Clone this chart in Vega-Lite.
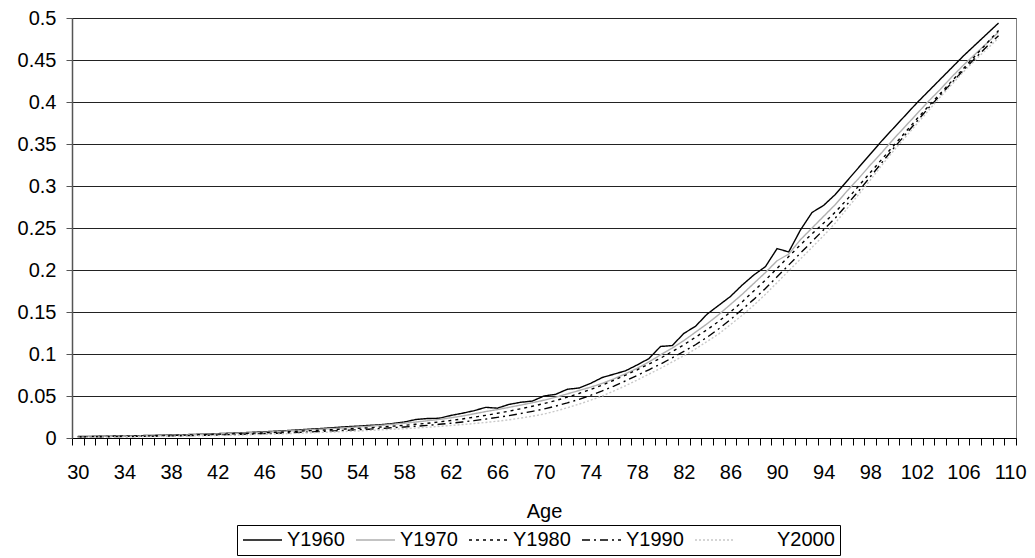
{
  "$schema": "https://vega.github.io/schema/vega-lite/v6.json",
  "width": 944,
  "height": 420,
  "autosize": {"type": "none"},
  "padding": {"left": 72, "top": 18, "right": 19, "bottom": 120},
  "background": "white",
  "config": {
    "font": "Liberation Sans",
    "view": {"stroke": "#808080", "strokeWidth": 1}
  },
  "data": {
    "values": [
      {"Age": 30, "Y1960": 0.0018, "Y1970": 0.0017, "Y1980": 0.0016, "Y1990": 0.0013, "Y2000": 0.0010},
      {"Age": 31, "Y1960": 0.0019, "Y1970": 0.0018, "Y1980": 0.0017, "Y1990": 0.0014, "Y2000": 0.0011},
      {"Age": 32, "Y1960": 0.0021, "Y1970": 0.0020, "Y1980": 0.0018, "Y1990": 0.0015, "Y2000": 0.0012},
      {"Age": 33, "Y1960": 0.0023, "Y1970": 0.0022, "Y1980": 0.0020, "Y1990": 0.0016, "Y2000": 0.0013},
      {"Age": 34, "Y1960": 0.0025, "Y1970": 0.0023, "Y1980": 0.0021, "Y1990": 0.0017, "Y2000": 0.0014},
      {"Age": 35, "Y1960": 0.0027, "Y1970": 0.0025, "Y1980": 0.0023, "Y1990": 0.0019, "Y2000": 0.0015},
      {"Age": 36, "Y1960": 0.0030, "Y1970": 0.0028, "Y1980": 0.0025, "Y1990": 0.0021, "Y2000": 0.0017},
      {"Age": 37, "Y1960": 0.0033, "Y1970": 0.0030, "Y1980": 0.0028, "Y1990": 0.0023, "Y2000": 0.0019},
      {"Age": 38, "Y1960": 0.0036, "Y1970": 0.0033, "Y1980": 0.0030, "Y1990": 0.0025, "Y2000": 0.0021},
      {"Age": 39, "Y1960": 0.0039, "Y1970": 0.0036, "Y1980": 0.0033, "Y1990": 0.0027, "Y2000": 0.0023},
      {"Age": 40, "Y1960": 0.0043, "Y1970": 0.0040, "Y1980": 0.0036, "Y1990": 0.0030, "Y2000": 0.0025},
      {"Age": 41, "Y1960": 0.0047, "Y1970": 0.0044, "Y1980": 0.0040, "Y1990": 0.0033, "Y2000": 0.0028},
      {"Age": 42, "Y1960": 0.0052, "Y1970": 0.0048, "Y1980": 0.0043, "Y1990": 0.0036, "Y2000": 0.0030},
      {"Age": 43, "Y1960": 0.0057, "Y1970": 0.0053, "Y1980": 0.0048, "Y1990": 0.0040, "Y2000": 0.0033},
      {"Age": 44, "Y1960": 0.0062, "Y1970": 0.0058, "Y1980": 0.0052, "Y1990": 0.0044, "Y2000": 0.0036},
      {"Age": 45, "Y1960": 0.0068, "Y1970": 0.0063, "Y1980": 0.0057, "Y1990": 0.0048, "Y2000": 0.0040},
      {"Age": 46, "Y1960": 0.0074, "Y1970": 0.0069, "Y1980": 0.0062, "Y1990": 0.0052, "Y2000": 0.0044},
      {"Age": 47, "Y1960": 0.0081, "Y1970": 0.0076, "Y1980": 0.0068, "Y1990": 0.0057, "Y2000": 0.0048},
      {"Age": 48, "Y1960": 0.0089, "Y1970": 0.0083, "Y1980": 0.0074, "Y1990": 0.0062, "Y2000": 0.0052},
      {"Age": 49, "Y1960": 0.0097, "Y1970": 0.0090, "Y1980": 0.0081, "Y1990": 0.0067, "Y2000": 0.0057},
      {"Age": 50, "Y1960": 0.0106, "Y1970": 0.0098, "Y1980": 0.0088, "Y1990": 0.0073, "Y2000": 0.0062},
      {"Age": 51, "Y1960": 0.0114, "Y1970": 0.0106, "Y1980": 0.0094, "Y1990": 0.0079, "Y2000": 0.0067},
      {"Age": 52, "Y1960": 0.0124, "Y1970": 0.0114, "Y1980": 0.0101, "Y1990": 0.0085, "Y2000": 0.0072},
      {"Age": 53, "Y1960": 0.0134, "Y1970": 0.0122, "Y1980": 0.0107, "Y1990": 0.0091, "Y2000": 0.0078},
      {"Age": 54, "Y1960": 0.0141, "Y1970": 0.0131, "Y1980": 0.0114, "Y1990": 0.0098, "Y2000": 0.0084},
      {"Age": 55, "Y1960": 0.0150, "Y1970": 0.0140, "Y1980": 0.0122, "Y1990": 0.0105, "Y2000": 0.0090},
      {"Age": 56, "Y1960": 0.0158, "Y1970": 0.0151, "Y1980": 0.0131, "Y1990": 0.0113, "Y2000": 0.0097},
      {"Age": 57, "Y1960": 0.0172, "Y1970": 0.0163, "Y1980": 0.0141, "Y1990": 0.0122, "Y2000": 0.0104},
      {"Age": 58, "Y1960": 0.0190, "Y1970": 0.0176, "Y1980": 0.0151, "Y1990": 0.0131, "Y2000": 0.0111},
      {"Age": 59, "Y1960": 0.0220, "Y1970": 0.0190, "Y1980": 0.0163, "Y1990": 0.0140, "Y2000": 0.0119},
      {"Age": 60, "Y1960": 0.0232, "Y1970": 0.0205, "Y1980": 0.0175, "Y1990": 0.0150, "Y2000": 0.0128},
      {"Age": 61, "Y1960": 0.0235, "Y1970": 0.0222, "Y1980": 0.0191, "Y1990": 0.0163, "Y2000": 0.0138},
      {"Age": 62, "Y1960": 0.0268, "Y1970": 0.0240, "Y1980": 0.0208, "Y1990": 0.0176, "Y2000": 0.0149},
      {"Age": 63, "Y1960": 0.0295, "Y1970": 0.0262, "Y1980": 0.0227, "Y1990": 0.0191, "Y2000": 0.0160},
      {"Age": 64, "Y1960": 0.0325, "Y1970": 0.0288, "Y1980": 0.0248, "Y1990": 0.0207, "Y2000": 0.0172},
      {"Age": 65, "Y1960": 0.0365, "Y1970": 0.0315, "Y1980": 0.0270, "Y1990": 0.0225, "Y2000": 0.0185},
      {"Age": 66, "Y1960": 0.0355, "Y1970": 0.0338, "Y1980": 0.0294, "Y1990": 0.0245, "Y2000": 0.0200},
      {"Age": 67, "Y1960": 0.0400, "Y1970": 0.0365, "Y1980": 0.0320, "Y1990": 0.0267, "Y2000": 0.0217},
      {"Age": 68, "Y1960": 0.0425, "Y1970": 0.0392, "Y1980": 0.0348, "Y1990": 0.0291, "Y2000": 0.0237},
      {"Age": 69, "Y1960": 0.0440, "Y1970": 0.0420, "Y1980": 0.0378, "Y1990": 0.0317, "Y2000": 0.0260},
      {"Age": 70, "Y1960": 0.0500, "Y1970": 0.0450, "Y1980": 0.0410, "Y1990": 0.0345, "Y2000": 0.0285},
      {"Age": 71, "Y1960": 0.0520, "Y1970": 0.0485, "Y1980": 0.0446, "Y1990": 0.0380, "Y2000": 0.0320},
      {"Age": 72, "Y1960": 0.0580, "Y1970": 0.0525, "Y1980": 0.0486, "Y1990": 0.0418, "Y2000": 0.0360},
      {"Age": 73, "Y1960": 0.0595, "Y1970": 0.0565, "Y1980": 0.0530, "Y1990": 0.0460, "Y2000": 0.0403},
      {"Age": 74, "Y1960": 0.0650, "Y1970": 0.0605, "Y1980": 0.0578, "Y1990": 0.0508, "Y2000": 0.0450},
      {"Age": 75, "Y1960": 0.0720, "Y1970": 0.0650, "Y1980": 0.0630, "Y1990": 0.0560, "Y2000": 0.0500},
      {"Age": 76, "Y1960": 0.0760, "Y1970": 0.0705, "Y1980": 0.0688, "Y1990": 0.0618, "Y2000": 0.0560},
      {"Age": 77, "Y1960": 0.0800, "Y1970": 0.0765, "Y1980": 0.0748, "Y1990": 0.0680, "Y2000": 0.0622},
      {"Age": 78, "Y1960": 0.0870, "Y1970": 0.0830, "Y1980": 0.0812, "Y1990": 0.0745, "Y2000": 0.0690},
      {"Age": 79, "Y1960": 0.0945, "Y1970": 0.0905, "Y1980": 0.0880, "Y1990": 0.0812, "Y2000": 0.0760},
      {"Age": 80, "Y1960": 0.1090, "Y1970": 0.0990, "Y1980": 0.0950, "Y1990": 0.0880, "Y2000": 0.0830},
      {"Age": 81, "Y1960": 0.1100, "Y1970": 0.1070, "Y1980": 0.1030, "Y1990": 0.0955, "Y2000": 0.0905},
      {"Age": 82, "Y1960": 0.1245, "Y1970": 0.1160, "Y1980": 0.1110, "Y1990": 0.1030, "Y2000": 0.0980},
      {"Age": 83, "Y1960": 0.1330, "Y1970": 0.1260, "Y1980": 0.1200, "Y1990": 0.1110, "Y2000": 0.1060},
      {"Age": 84, "Y1960": 0.1475, "Y1970": 0.1360, "Y1980": 0.1290, "Y1990": 0.1200, "Y2000": 0.1150},
      {"Age": 85, "Y1960": 0.1580, "Y1970": 0.1470, "Y1980": 0.1390, "Y1990": 0.1300, "Y2000": 0.1240},
      {"Age": 86, "Y1960": 0.1685, "Y1970": 0.1590, "Y1980": 0.1500, "Y1990": 0.1410, "Y2000": 0.1350},
      {"Age": 87, "Y1960": 0.1820, "Y1970": 0.1710, "Y1980": 0.1620, "Y1990": 0.1530, "Y2000": 0.1460},
      {"Age": 88, "Y1960": 0.1940, "Y1970": 0.1840, "Y1980": 0.1750, "Y1990": 0.1650, "Y2000": 0.1580},
      {"Age": 89, "Y1960": 0.2040, "Y1970": 0.1970, "Y1980": 0.1880, "Y1990": 0.1780, "Y2000": 0.1710},
      {"Age": 90, "Y1960": 0.2255, "Y1970": 0.2110, "Y1980": 0.2020, "Y1990": 0.1920, "Y2000": 0.1850},
      {"Age": 91, "Y1960": 0.2215, "Y1970": 0.2190, "Y1980": 0.2160, "Y1990": 0.2060, "Y2000": 0.1990},
      {"Age": 92, "Y1960": 0.2475, "Y1970": 0.2360, "Y1980": 0.2300, "Y1990": 0.2200, "Y2000": 0.2130},
      {"Age": 93, "Y1960": 0.2685, "Y1970": 0.2500, "Y1980": 0.2430, "Y1990": 0.2340, "Y2000": 0.2270},
      {"Age": 94, "Y1960": 0.2770, "Y1970": 0.2640, "Y1980": 0.2560, "Y1990": 0.2480, "Y2000": 0.2410},
      {"Age": 95, "Y1960": 0.2900, "Y1970": 0.2780, "Y1980": 0.2690, "Y1990": 0.2620, "Y2000": 0.2560},
      {"Age": 96, "Y1960": 0.3060, "Y1970": 0.2940, "Y1980": 0.2840, "Y1990": 0.2780, "Y2000": 0.2730},
      {"Age": 97, "Y1960": 0.3220, "Y1970": 0.3090, "Y1980": 0.3000, "Y1990": 0.2940, "Y2000": 0.2900},
      {"Age": 98, "Y1960": 0.3380, "Y1970": 0.3250, "Y1980": 0.3160, "Y1990": 0.3110, "Y2000": 0.3070},
      {"Age": 99, "Y1960": 0.3540, "Y1970": 0.3400, "Y1980": 0.3320, "Y1990": 0.3280, "Y2000": 0.3250},
      {"Age": 100, "Y1960": 0.3690, "Y1970": 0.3560, "Y1980": 0.3480, "Y1990": 0.3450, "Y2000": 0.3420},
      {"Age": 101, "Y1960": 0.3840, "Y1970": 0.3710, "Y1980": 0.3640, "Y1990": 0.3610, "Y2000": 0.3580},
      {"Age": 102, "Y1960": 0.3990, "Y1970": 0.3860, "Y1980": 0.3800, "Y1990": 0.3770, "Y2000": 0.3740},
      {"Age": 103, "Y1960": 0.4130, "Y1970": 0.4010, "Y1980": 0.3950, "Y1990": 0.3930, "Y2000": 0.3900},
      {"Age": 104, "Y1960": 0.4270, "Y1970": 0.4150, "Y1980": 0.4100, "Y1990": 0.4080, "Y2000": 0.4060},
      {"Age": 105, "Y1960": 0.4410, "Y1970": 0.4300, "Y1980": 0.4250, "Y1990": 0.4230, "Y2000": 0.4210},
      {"Age": 106, "Y1960": 0.4550, "Y1970": 0.4440, "Y1980": 0.4400, "Y1990": 0.4380, "Y2000": 0.4360},
      {"Age": 107, "Y1960": 0.4680, "Y1970": 0.4570, "Y1980": 0.4550, "Y1990": 0.4520, "Y2000": 0.4500},
      {"Age": 108, "Y1960": 0.4810, "Y1970": 0.4700, "Y1980": 0.4700, "Y1990": 0.4660, "Y2000": 0.4630},
      {"Age": 109, "Y1960": 0.4940, "Y1970": 0.4830, "Y1980": 0.4850, "Y1990": 0.4790, "Y2000": 0.4760}
    ]
  },
  "transform": [
    {"fold": ["Y1960", "Y1970", "Y1980", "Y1990", "Y2000"], "as": ["Series", "Value"]}
  ],
  "mark": {"type": "line", "strokeWidth": 1.4, "clip": true},
  "encoding": {
    "x": {
      "field": "Age",
      "type": "ordinal",
      "sort": null,
      "scale": {
        "type": "band",
        "paddingInner": 0,
        "paddingOuter": 0,
        "domain": [30,31,32,33,34,35,36,37,38,39,40,41,42,43,44,45,46,47,48,49,50,51,52,53,54,55,56,57,58,59,60,61,62,63,64,65,66,67,68,69,70,71,72,73,74,75,76,77,78,79,80,81,82,83,84,85,86,87,88,89,90,91,92,93,94,95,96,97,98,99,100,101,102,103,104,105,106,107,108,109,110]
      },
      "axis": {
        "title": "Age",
        "titleFontSize": 20,
        "titleFontWeight": "normal",
        "titleColor": "black",
        "titleY": 79,
        "titleBaseline": "alphabetic",
        "tickBand": "extent",
        "tickSize": 7,
        "tickColor": "black",
        "domainColor": "black",
        "domainWidth": 1,
        "labelFontSize": 20,
        "labelColor": "black",
        "labelAngle": 0,
        "labelPadding": 17,
        "labelOverlap": false,
        "labelExpr": "(datum.value - 30) % 4 == 0 ? datum.label : ''",
        "grid": false
      }
    },
    "y": {
      "field": "Value",
      "type": "quantitative",
      "scale": {"domain": [0, 0.5], "nice": false, "zero": true},
      "axis": {
        "title": null,
        "values": [0, 0.05, 0.1, 0.15, 0.2, 0.25, 0.3, 0.35, 0.4, 0.45, 0.5],
        "format": "~g",
        "labelFontSize": 20,
        "labelColor": "black",
        "labelPadding": 10,
        "tickSize": 6,
        "tickColor": "#555555",
        "domainColor": "#555555",
        "domainWidth": 1.5,
        "grid": true,
        "gridColor": "#222222",
        "gridWidth": 1
      }
    },
    "color": {
      "field": "Series",
      "type": "nominal",
      "scale": {
        "domain": ["Y1960", "Y1970", "Y1980", "Y1990", "Y2000"],
        "range": ["#000000", "#b0b0b0", "#000000", "#000000", "#c8c8c8"]
      },
      "legend": {
        "title": null,
        "orient": "none",
        "legendX": 165,
        "legendY": 507,
        "direction": "horizontal",
        "columns": 5,
        "symbolType": "stroke",
        "symbolSize": 1521,
        "symbolStrokeWidth": 1.4,
        "clipHeight": 20,
        "labelFontSize": 20,
        "labelColor": "black",
        "labelOffset": 4,
        "labelLimit": 0,
        "columnPadding": 10,
        "padding": 5,
        "strokeColor": "black",
        "fillColor": "white",
        "encode": {
          "labels": {"update": {"dx": {"signal": "datum.label == 'Y2000' ? 38 : 0"}}}
        }
      }
    },
    "strokeDash": {
      "field": "Series",
      "type": "nominal",
      "scale": {
        "domain": ["Y1960", "Y1970", "Y1980", "Y1990", "Y2000"],
        "range": [[1, 0], [1, 0], [3, 4], [8, 4, 2, 4], [2, 2]]
      },
      "legend": {
        "title": null,
        "orient": "none",
        "legendX": 165,
        "legendY": 507,
        "direction": "horizontal",
        "columns": 5,
        "symbolType": "stroke",
        "symbolSize": 1521,
        "symbolStrokeWidth": 1.4,
        "clipHeight": 20,
        "labelFontSize": 20,
        "labelColor": "black",
        "labelOffset": 4,
        "labelLimit": 0,
        "columnPadding": 10,
        "padding": 5,
        "strokeColor": "black",
        "fillColor": "white",
        "encode": {
          "labels": {"update": {"dx": {"signal": "datum.label == 'Y2000' ? 38 : 0"}}}
        }
      }
    }
  }
}
